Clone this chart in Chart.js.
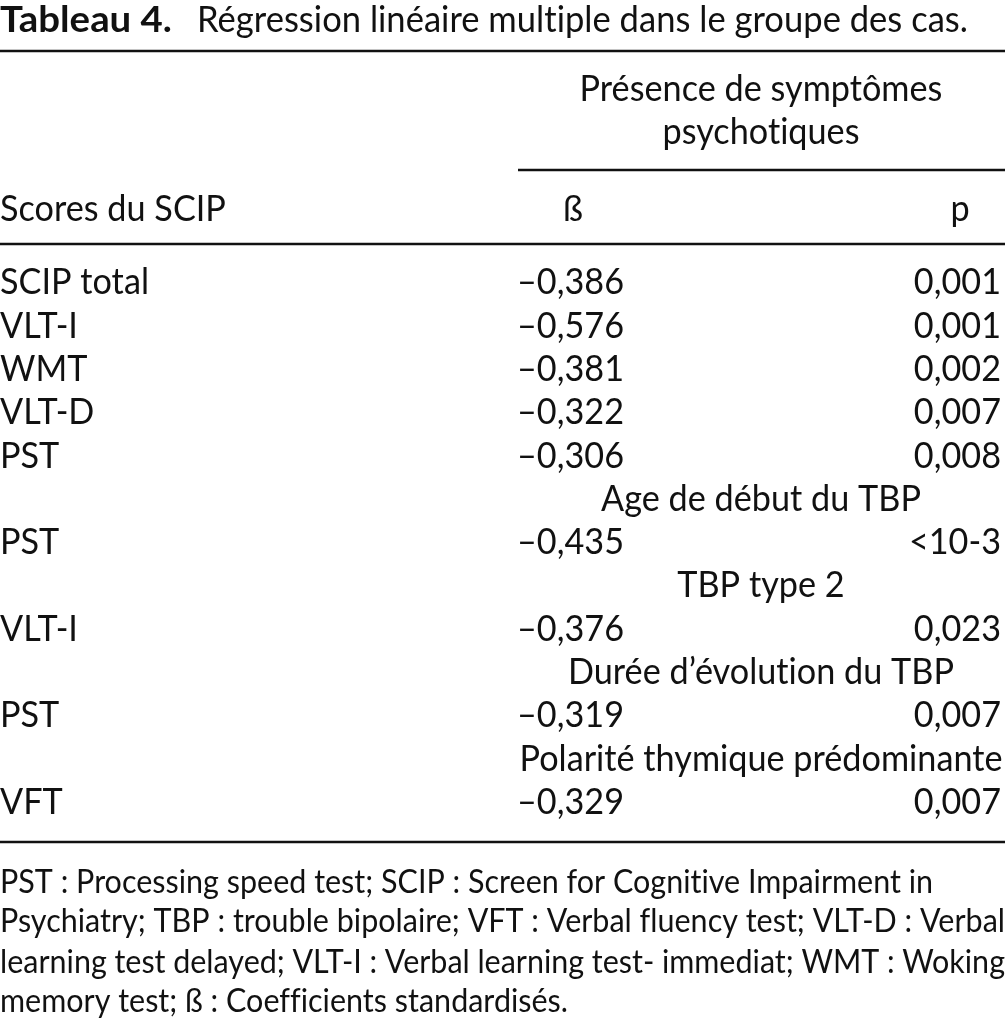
<!DOCTYPE html>
<html>
<head>
<meta charset="utf-8">
<script src="https://cdn.jsdelivr.net/npm/chart.js@4.4.0/dist/chart.umd.min.js"></script>
<style>
  html, body { margin: 0; padding: 0; background: #fff; }
  #wrap { width: 1005px; height: 1023px; }
</style>
</head>
<body>
<div id="wrap"><canvas id="tableCanvas"></canvas></div>
<script>
// table content
var titleBold = 'Tableau 4.';
var titleText = 'Régression linéaire multiple dans le groupe des cas.';
var headerGroup = ['Présence de symptômes', 'psychotiques'];
var headerLabels = ['Scores du SCIP', 'ß', 'p'];

var scores = ['SCIP total', 'VLT-I', 'WMT', 'VLT-D', 'PST', 'PST', 'VLT-I', 'PST', 'VFT'];
var betas = [-0.386, -0.576, -0.381, -0.322, -0.306, -0.435, -0.376, -0.319, -0.329];
var pValues = ['0,001', '0,001', '0,002', '0,007', '0,008', '<10-3', '0,023', '0,007', '0,007'];
var scoreRows = [0, 1, 2, 3, 4, 6, 8, 10, 12];

var groupTitles = ['Age de début du TBP', 'TBP type 2', 'Durée d\u2019évolution du TBP', 'Polarité thymique prédominante'];
var groupRows = [5, 7, 9, 11];

var footnotes = [
    'PST : Processing speed test; SCIP : Screen for Cognitive Impairment in',
    'Psychiatry; TBP : trouble bipolaire; VFT : Verbal fluency test; VLT-D : Verbal',
    'learning test delayed; VLT-I : Verbal learning test- immediat; WMT : Woking',
    'memory test; ß : Coefficients standardisés.'
];
var footnoteJustify = [false, true, true, false];

// layout (row units on the y scale, page units on the x scale)
var FONT = 'Lato, "DejaVu Sans", sans-serif';
var BODY_SIZE = 37;
var NOTE_SIZE = 33;
var INK = '#111';
var Y_MIN = -6.49, Y_MAX = 17.136;
var COL_LABEL = 0, COL_BETA = 517, COL_P = 1001, COL_GROUP = 761, COL_SUB = 518, PAGE_W = 1005;
var COL_BETA_HEAD = 563, COL_P_HEAD = 960;
var ROW_TITLE = -6.07, RULE_TOP = -5.31, ROW_HEAD1 = -4.457, ROW_HEAD2 = -3.47;
var RULE_SUB = -2.564, ROW_HEAD3 = -1.686, RULE_HEAD = -0.854, RULE_BOTTOM = 12.956;
var NOTE_ROWS = [13.86, 14.77, 15.70, 16.61];

function fmtBeta(v) {
    return (v < 0 ? '\u2013' : '') + Math.abs(v).toFixed(3).replace('.', ',');
}

function pointsAt(col, rows) {
    return rows.map(function (r) { return { x: col, y: r }; });
}

var bodyScale = 1;

function setFont(ctx, size, weight) {
    ctx.font = (weight || '') + ' ' + size + 'px ' + FONT;
    // a tiny letter spacing keeps Lato from drawing the "ti" ligature
    if ('letterSpacing' in ctx) ctx.letterSpacing = '0.01px';
}

function drawText(ctx, text, x, y, align, size, weight, hs) {
    ctx.save();
    setFont(ctx, size, weight);
    ctx.fillStyle = INK;
    ctx.textBaseline = 'alphabetic';
    ctx.textAlign = align;
    ctx.translate(x, y + size * 0.36);
    ctx.scale(hs, 1);
    ctx.fillText(text, 0, 0);
    ctx.restore();
}

function textWidth(ctx, text, size, weight) {
    ctx.save();
    setFont(ctx, size, weight);
    var w = ctx.measureText(text).width;
    ctx.restore();
    return w;
}

function rule(ctx, xs, x0, x1, y, w) {
    ctx.save();
    ctx.strokeStyle = INK;
    ctx.lineWidth = w;
    ctx.beginPath();
    ctx.moveTo(xs.getPixelForValue(x0), y);
    ctx.lineTo(xs.getPixelForValue(x1), y);
    ctx.stroke();
    ctx.restore();
}

var tableText = {
    id: 'tableText',
    afterDatasetsDraw: function (chart) {
        var ctx = chart.ctx;
        var xs = chart.scales.x, ys = chart.scales.y;
        bodyScale = 483 / textWidth(ctx, groupTitles[3], BODY_SIZE);

        // title
        var tb = textWidth(ctx, titleBold, BODY_SIZE, 'bold');
        var tr = textWidth(ctx, titleText, BODY_SIZE);
        drawText(ctx, titleBold, xs.getPixelForValue(0), ys.getPixelForValue(ROW_TITLE), 'left', BODY_SIZE, 'bold', 172 / tb);
        drawText(ctx, titleText, xs.getPixelForValue(197), ys.getPixelForValue(ROW_TITLE), 'left', BODY_SIZE, '', 771 / tr);

        // rules
        rule(ctx, xs, 0, PAGE_W, ys.getPixelForValue(RULE_TOP), 2.5);
        rule(ctx, xs, COL_SUB, PAGE_W, ys.getPixelForValue(RULE_SUB), 2.5);
        rule(ctx, xs, 0, PAGE_W, ys.getPixelForValue(RULE_HEAD), 2.5);
        rule(ctx, xs, 0, PAGE_W, ys.getPixelForValue(RULE_BOTTOM), 2.5);

        // header
        drawText(ctx, headerGroup[0], xs.getPixelForValue(COL_GROUP), ys.getPixelForValue(ROW_HEAD1), 'center', BODY_SIZE, '', bodyScale);
        drawText(ctx, headerGroup[1], xs.getPixelForValue(COL_GROUP), ys.getPixelForValue(ROW_HEAD2), 'center', BODY_SIZE, '', bodyScale);
        drawText(ctx, headerLabels[0], xs.getPixelForValue(COL_LABEL), ys.getPixelForValue(ROW_HEAD3), 'left', BODY_SIZE, '', bodyScale);
        drawText(ctx, headerLabels[1], xs.getPixelForValue(COL_BETA_HEAD), ys.getPixelForValue(ROW_HEAD3), 'left', BODY_SIZE, '', bodyScale);
        drawText(ctx, headerLabels[2], xs.getPixelForValue(COL_P_HEAD), ys.getPixelForValue(ROW_HEAD3), 'center', BODY_SIZE, '', bodyScale);

        // cells from datasets
        chart.data.datasets.forEach(function (ds, di) {
            var meta = chart.getDatasetMeta(di);
            meta.data.forEach(function (el, i) {
                drawText(ctx, ds.texts[i], el.x, el.y, ds.align, BODY_SIZE, '', bodyScale);
            });
        });

        // footnotes
        var noteScale = 568 / textWidth(ctx, footnotes[3], NOTE_SIZE);
        footnotes.forEach(function (line, i) {
            var y = ys.getPixelForValue(NOTE_ROWS[i]);
            if (!footnoteJustify[i]) {
                drawText(ctx, line, xs.getPixelForValue(0), y, 'left', NOTE_SIZE, '', noteScale);
                return;
            }
            var words = line.split(' ');
            var total = 0;
            var widths = words.map(function (w) {
                var ww = textWidth(ctx, w, NOTE_SIZE) * noteScale;
                total += ww;
                return ww;
            });
            var left = xs.getPixelForValue(0), right = xs.getPixelForValue(PAGE_W);
            var gap = (right - left - total) / (words.length - 1);
            var x = left;
            words.forEach(function (w, k) {
                drawText(ctx, w, x, y, 'left', NOTE_SIZE, '', noteScale);
                x += widths[k] + gap;
            });
        });
    }
};

var ctx = document.getElementById('tableCanvas').getContext('2d');
var tableChart = new Chart(ctx, {
    type: 'scatter',
    data: {
        datasets: [
            { label: 'Scores', data: pointsAt(COL_LABEL, scoreRows), texts: scores, align: 'left' },
            { label: 'ß', data: pointsAt(COL_BETA, scoreRows), texts: betas.map(fmtBeta), align: 'left' },
            { label: 'p', data: pointsAt(COL_P, scoreRows), texts: pValues, align: 'right' },
            { label: 'Groupes', data: pointsAt(COL_GROUP, groupRows), texts: groupTitles, align: 'center' }
        ]
    },
    options: {
        responsive: true,
        maintainAspectRatio: false,
        animation: false,
        devicePixelRatio: 1,
        layout: { padding: 0 },
        elements: { point: { radius: 0, hoverRadius: 0 } },
        plugins: { legend: { display: false }, tooltip: { enabled: false } },
        scales: {
            x: { type: 'linear', min: 0, max: PAGE_W, display: false },
            y: { type: 'linear', min: Y_MIN, max: Y_MAX, reverse: true, display: false }
        }
    },
    plugins: [tableText]
});
</script>
</body>
</html>
